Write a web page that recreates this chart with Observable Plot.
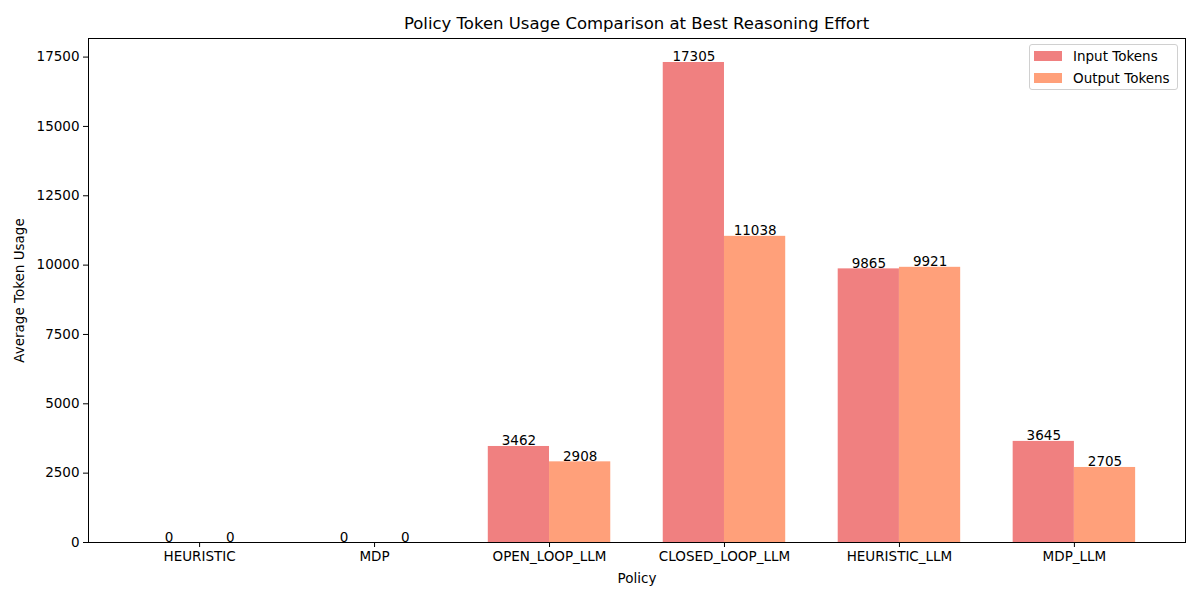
<!DOCTYPE html>
<html>
<head>
<meta charset="utf-8">
<script src="https://cdn.jsdelivr.net/npm/d3@7"></script>
<script src="https://cdn.jsdelivr.net/npm/@observablehq/plot@0.6"></script>
<style>
  body { margin: 0; background: #fff; font-family: "DejaVu Sans", sans-serif; }
  #wrap { position: relative; width: 1200px; height: 600px; }
  #title { height: 30px; box-sizing: border-box; padding: 16px 15px 0 88px; text-align: center; font-size: 16.5px; color: #000; line-height: 16px; }
  #legend { position: absolute; left: 1029px; top: 44px; width: 149px; height: 46px; border: 1px solid #d0d0d0; border-radius: 3px; background: rgba(255,255,255,0.8); font-size: 13.5px; box-sizing: border-box; }
  .item { position: absolute; left: 4px; display: flex; align-items: center; line-height: 16px; }
  .sw { width: 28px; height: 10px; margin-right: 11px; }
</style>
</head>
<body>
<div id="wrap">
  <div id="title">Policy Token Usage Comparison at Best Reasoning Effort</div>
  <div id="chart"></div>
  <div id="legend">
    <div class="item" style="top:3px"><div class="sw" style="background:#F08080"></div>Input Tokens</div>
    <div class="item" style="top:25px"><div class="sw" style="background:#FFA07A"></div>Output Tokens</div>
  </div>
</div>
<script>
const policies = ["HEURISTIC", "MDP", "OPEN_LOOP_LLM", "CLOSED_LOOP_LLM", "HEURISTIC_LLM", "MDP_LLM"];
const inputTokens = [0, 0, 3462, 17305, 9865, 3645];
const outputTokens = [0, 0, 2908, 11038, 9921, 2705];
const yTicks = [0, 2500, 5000, 7500, 10000, 12500, 15000, 17500];
const seriesNames = ["Input Tokens", "Output Tokens"];
const seriesColors = ["#F08080", "#FFA07A"];

const barW = 0.35;
const rows = [];
policies.forEach((p, i) => {
  rows.push({i, series: seriesNames[0], x1: i - barW, x2: i, value: inputTokens[i]});
  rows.push({i, series: seriesNames[1], x1: i, x2: i + barW, value: outputTokens[i]});
});

const chart = Plot.plot({
  width: 1200,
  height: 570,
  marginTop: 8,
  marginLeft: 88,
  marginRight: 15,
  marginBottom: 58,
  style: {fontFamily: "DejaVu Sans, sans-serif", fontSize: "13px", color: "#000", background: "#fff"},
  x: {type: "linear", domain: [-0.635, 5.635]},
  y: {domain: [0, 18170]},
  color: {domain: seriesNames, range: seriesColors},
  marks: [
    Plot.rectY(rows, {x1: "x1", x2: "x2", y1: 0, y2: "value", fill: "series"}),
    Plot.text(rows, {x: d => (d.x1 + d.x2) / 2, y: "value", text: d => String(d.value), lineAnchor: "bottom", dy: -1, fontSize: 13.5, fill: "#000"}),
    Plot.frame({stroke: "#000", strokeWidth: 1}),
    Plot.axisX({ticks: policies.map((p, i) => i), tickFormat: i => policies[i], tickSize: 5, tickPadding: 4, fontSize: 13.5, label: "Policy", labelAnchor: "center", labelArrow: "none", labelOffset: 40}),
    Plot.axisY({ticks: yTicks, tickFormat: d => String(d), tickSize: 5, tickPadding: 4, fontSize: 13.5, label: "Average Token Usage", labelAnchor: "center", labelArrow: "none", labelOffset: 74})
  ]
});
document.getElementById("chart").appendChild(chart);
</script>
</body>
</html>
